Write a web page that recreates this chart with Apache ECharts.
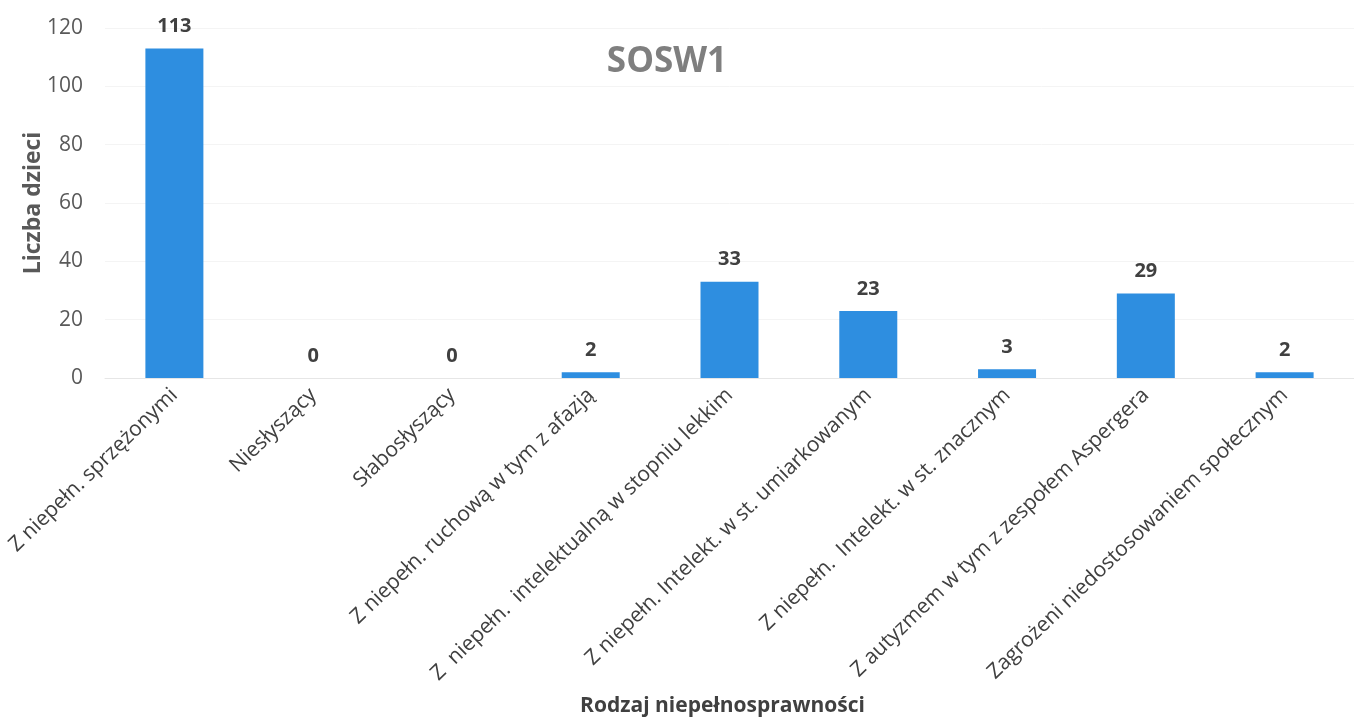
<!DOCTYPE html>
<html>
<head>
<meta charset="utf-8">
<script src="https://cdn.jsdelivr.net/npm/echarts@6/dist/echarts.min.js"></script>
<style>
html,body{margin:0;padding:0;background:#fff;}
#chart{width:1354px;height:719px;}
</style>
</head>
<body>
<div id="chart"></div>
<script>
// dane
var categories = [
    'Z niepełn. sprzężonymi',
    'Niesłyszący',
    'Słabosłyszący',
    'Z niepełn. ruchową w tym z afazją',
    'Z  niepełn.  intelektualną w stopniu lekkim',
    'Z niepełn. Intelekt. w st. umiarkowanym',
    'Z niepełn.  Intelekt. w st. znacznym',
    'Z autyzmem w tym z zespołem Aspergera',
    'Zagrożeni niedostosowaniem społecznym'
];
var values = [113, 0, 0, 2, 33, 23, 3, 29, 2];
var yTicks = [0, 20, 40, 60, 80, 100, 120];

var font = '"Open Sans", "Noto Sans", sans-serif';

var chart = echarts.init(document.getElementById('chart'));
chart.setOption({
    backgroundColor: '#ffffff',
    animation: false,
    title: {
        text: 'SOSW1',
        left: 662,
        top: 40,
        textAlign: 'center',
        textStyle: {fontFamily: font, fontSize: 35, fontWeight: 'bold', color: '#7f7f7f'}
    },
    grid: {left: 105, top: 28, width: 1260, height: 350, containLabel: false},
    xAxis: {
        type: 'category',
        data: categories,
        axisTick: {show: false},
        axisLine: {lineStyle: {color: '#e6e6e6'}},
        axisLabel: {
            rotate: 44,
            interval: 0,
            margin: 14,
            fontFamily: font,
            fontSize: 21,
            color: '#404040'
        },
        name: 'Rodzaj niepełnosprawności',
        nameLocation: 'middle',
        nameMoveOverlap: false,
        nameGap: 318,
        nameTextStyle: {fontFamily: font, fontSize: 21, fontWeight: 'bold', color: '#404040', padding: [0, 0, 0, -14]}
    },
    yAxis: {
        type: 'value',
        min: 0,
        max: 120,
        interval: 20,
        axisLine: {show: false},
        axisTick: {show: false},
        splitLine: {lineStyle: {color: '#f4f4f4'}},
        axisLabel: {
            margin: 22,
            fontFamily: font,
            fontSize: 21,
            color: '#595959',
            formatter: function (v) { return yTicks.indexOf(v) >= 0 ? v : ''; }
        },
        name: 'Liczba dzieci',
        nameLocation: 'middle',
        nameMoveOverlap: false,
        nameGap: 60,
        nameTextStyle: {fontFamily: font, fontSize: 23, fontWeight: 'bold', color: '#595959'}
    },
    series: [{
        type: 'bar',
        data: values,
        barWidth: 58,
        itemStyle: {color: '#2e8ee0'},
        label: {
            show: true,
            position: 'top',
            distance: 12,
            fontFamily: font,
            fontSize: 20,
            fontWeight: 'bold',
            color: '#404040'
        }
    }]
});
</script>
</body>
</html>
